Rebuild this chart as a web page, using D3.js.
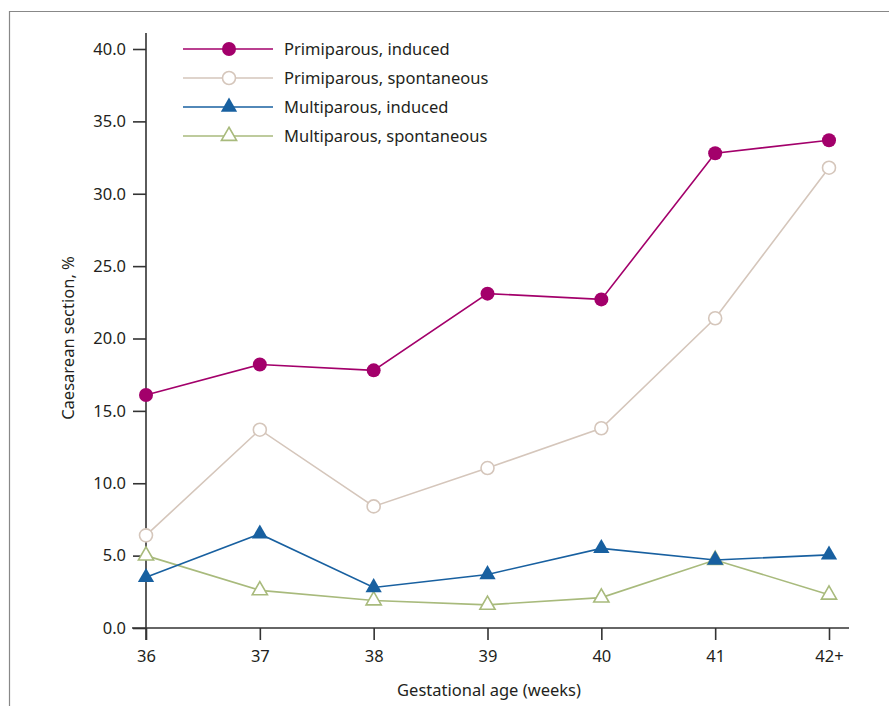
<!DOCTYPE html>
<html>
<head>
<meta charset="utf-8">
<script src="https://cdn.jsdelivr.net/npm/d3@7"></script>
<style>
  body { margin: 0; background: #fff; }
  svg { display: block; font-family: "Noto Sans", sans-serif; }
</style>
</head>
<body>
<svg id="chart" width="889" height="706"></svg>
<script>
// ---------------------------------------------
// Data
// ---------------------------------------------

const weeks = ["36", "37", "38", "39", "40", "41", "42+"];
const yTicks = [0, 5, 10, 15, 20, 25, 30, 35, 40];

const primiInduced = [16.1, 18.2, 17.8, 23.1, 22.7, 32.8, 33.7];
const primiSpont = [6.4, 13.7, 8.4, 11.05, 13.8, 21.4, 31.8];
const multiInduced = [3.5, 6.5, 2.8, 3.7, 5.5, 4.7, 5.05];
const multiSpont = [5.0, 2.6, 1.9, 1.6, 2.1, 4.7, 2.3];

const seriesNames = [
  "Primiparous, induced",
  "Primiparous, spontaneous",
  "Multiparous, induced",
  "Multiparous, spontaneous"
];

// colour + marker style for each series
const series = [
  { name: seriesNames[0], values: primiInduced, color: "#a3006b", shape: "circle", filled: true },
  { name: seriesNames[1], values: primiSpont, color: "#d5c6bb", shape: "circle", filled: false },
  { name: seriesNames[2], values: multiInduced, color: "#1860a0", shape: "triangle", filled: true },
  { name: seriesNames[3], values: multiSpont, color: "#a8ba7c", shape: "triangle", filled: false }
];

// ---------------------------------------------
// Setup
// ---------------------------------------------

const svg = d3.select("#chart");
const axisColor = "#333";
const textColor = "#231f20";
const fontSize = "16.5px";

// frame on top + left
svg.append("path")
  .attr("d", "M9.5,706 V11.5 H889")
  .attr("fill", "none")
  .attr("stroke", "#888")
  .attr("stroke-width", 1.2);

const x = d3.scalePoint().domain(weeks).range([146, 829]);
const y = d3.scaleLinear().domain([0, 40]).range([628, 49]);

// y axis
const yAxis = svg.append("g")
  .attr("transform", "translate(146,0)")
  .call(d3.axisLeft(y).tickValues(yTicks).tickFormat(d3.format(".1f")).tickSize(13).tickSizeOuter(0));
yAxis.select(".domain").attr("d", `M0,33V${y(0) + 12}`);

// x axis
const xAxis = svg.append("g")
  .attr("transform", `translate(0,${y(0)})`)
  .call(d3.axisBottom(x).tickSize(12).tickSizeOuter(0));
xAxis.select(".domain").attr("d", "M132,0H849");

svg.selectAll(".domain").attr("stroke", axisColor).attr("stroke-width", 1.6);
svg.selectAll(".tick line").attr("stroke", axisColor).attr("stroke-width", 1.6);
svg.selectAll(".tick text")
  .attr("fill", textColor)
  .style("font-size", fontSize)
  .style("font-family", "'Noto Sans', sans-serif");
yAxis.selectAll(".tick text").attr("x", -20);
xAxis.selectAll(".tick text").attr("y", 22);

// axis titles
svg.append("text")
  .attr("x", 489)
  .attr("y", 696)
  .attr("text-anchor", "middle")
  .attr("fill", textColor)
  .style("font-size", fontSize)
  .text("Gestational age (weeks)");

svg.append("text")
  .attr("transform", "translate(74,338) rotate(-90)")
  .attr("text-anchor", "middle")
  .attr("fill", textColor)
  .style("font-size", fontSize)
  .text("Caesarean section, %");

// ---------------------------------------------
// Lines + markers
// ---------------------------------------------

const triangle = d3.symbol().type(d3.symbolTriangle);

function drawMarker(g, s, cx, cy) {
  if (s.shape === "circle") {
    g.append("circle")
      .attr("cx", cx).attr("cy", cy)
      .attr("r", s.filled ? 7 : 6.5)
      .attr("fill", s.filled ? s.color : "#fff")
      .attr("stroke", s.color)
      .attr("stroke-width", s.filled ? 0 : 1.6);
  } else {
    g.append("path")
      .attr("d", triangle.size(s.filled ? 115 : 100)())
      .attr("transform", `translate(${cx},${cy})`)
      .attr("fill", s.filled ? s.color : "#fff")
      .attr("stroke", s.color)
      .attr("stroke-width", s.filled ? 0 : 1.6);
  }
}

const line = d3.line()
  .x((d, i) => x(weeks[i]))
  .y(d => y(d));

// draw in reverse so the primiparous series sit on top
[...series].reverse().forEach(s => {
  const g = svg.append("g");
  g.append("path")
    .attr("d", line(s.values))
    .attr("fill", "none")
    .attr("stroke", s.color)
    .attr("stroke-width", 1.6);
  s.values.forEach((v, i) => drawMarker(g, s, x(weeks[i]), y(v)));
});

// ---------------------------------------------
// Legend
// ---------------------------------------------

const legend = svg.append("g");
series.forEach((s, i) => {
  const ly = 49 + i * 29;
  legend.append("line")
    .attr("x1", 183).attr("x2", 273)
    .attr("y1", ly).attr("y2", ly)
    .attr("stroke", s.color)
    .attr("stroke-width", 1.6);
  drawMarker(legend, s, 229, ly);
  legend.append("text")
    .attr("x", 284)
    .attr("y", ly + 6)
    .attr("fill", textColor)
    .style("font-size", fontSize)
    .text(s.name);
});
</script>
</body>
</html>
